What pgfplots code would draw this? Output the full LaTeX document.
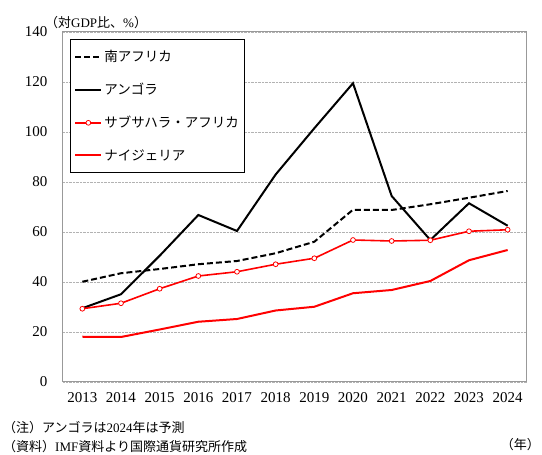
\documentclass[border=0pt]{standalone}
\usepackage{fontspec}
\setmainfont{Liberation Serif}
\newfontfamily\jp{Noto Sans CJK JP}
\usepackage{pgfplots}
\pgfplotsset{compat=1.18}
\begin{document}
\begin{tikzpicture}
\useasboundingbox (0pt,0pt) rectangle (542pt,455pt);
\begin{axis}[
  at={(63pt,73pt)}, anchor=south west,
  scale only axis, width=464pt, height=350pt,
  xmin=2012.5, xmax=2024.5, ymin=0, ymax=140,
  xtick={2013,...,2024}, ytick={0,20,...,140},
  /pgf/number format/1000 sep={},
  /pgf/number format/assume math mode=true,
  tick label style={font=\fontsize{15}{15}\selectfont},
  yticklabel style={xshift=-12pt},
  xticklabel style={yshift=-7pt},
  major tick length=0pt,
  axis line style={gray!80, line width=1pt},
  ymajorgrids, grid style={gray!60, densely dotted, line width=0.6pt},
  legend style={at={(0.015,0.98)}, anchor=north west, draw=black, line width=0.8pt,
    font=\jp\fontsize{13.5}{13.5}\selectfont, cells={anchor=west},
    row sep=16pt, inner xsep=4pt, inner ysep=9pt},
  legend image code/.code={\draw[mark repeat=2, mark phase=2, #1] plot coordinates {(0pt,0pt) (13pt,0pt) (26pt,0pt)};},
]
\addplot[black, line width=2pt, dash pattern=on 6pt off 3pt] coordinates {
(2013,40.1)(2014,43.5)(2015,45.2)(2016,47.1)(2017,48.4)(2018,51.5)(2019,56.1)(2020,68.9)(2021,68.8)(2022,71.1)(2023,73.7)(2024,76.4)};
\addlegendentry{南アフリカ}
\addplot[black, line width=2pt] coordinates {
(2013,29.5)(2014,35.1)(2015,50.5)(2016,66.8)(2017,60.4)(2018,83.0)(2019,101.5)(2020,119.5)(2021,74.4)(2022,56.8)(2023,71.5)(2024,62.5)};
\addlegendentry{アンゴラ}
\addplot[red, line width=1.6pt, mark=*, mark size=2.4pt, mark options={fill=white, draw=red, line width=0.8pt}] coordinates {
(2013,29.3)(2014,31.5)(2015,37.3)(2016,42.4)(2017,44.1)(2018,47.1)(2019,49.5)(2020,56.8)(2021,56.4)(2022,56.7)(2023,60.3)(2024,60.9)};
\addlegendentry{サブサハラ・アフリカ}
\addplot[red, line width=2pt] coordinates {
(2013,18.1)(2014,18.0)(2015,21.0)(2016,24.1)(2017,25.2)(2018,28.6)(2019,30.1)(2020,35.5)(2021,36.8)(2022,40.4)(2023,48.7)(2024,52.8)};
\addlegendentry{ナイジェリア}
\end{axis}
\node[anchor=west, inner sep=0pt, font=\fontsize{13}{13}\selectfont] at (45pt,432pt) {{\jp （対}GDP{\jp 比、}\%{\jp ）}};
\node[anchor=west, inner sep=0pt, font=\fontsize{13}{13}\selectfont] at (3pt,27pt) {{\jp （注）アンゴラは}2024{\jp 年は予測}};
\node[anchor=west, inner sep=0pt, font=\fontsize{13}{13}\selectfont] at (3pt,8pt) {{\jp （資料）}IMF{\jp 資料より国際通貨研究所作成}};
\node[anchor=east, inner sep=0pt, font=\fontsize{13}{13}\selectfont] at (540pt,10pt) {{\jp （年）}};
\end{tikzpicture}
\end{document}
